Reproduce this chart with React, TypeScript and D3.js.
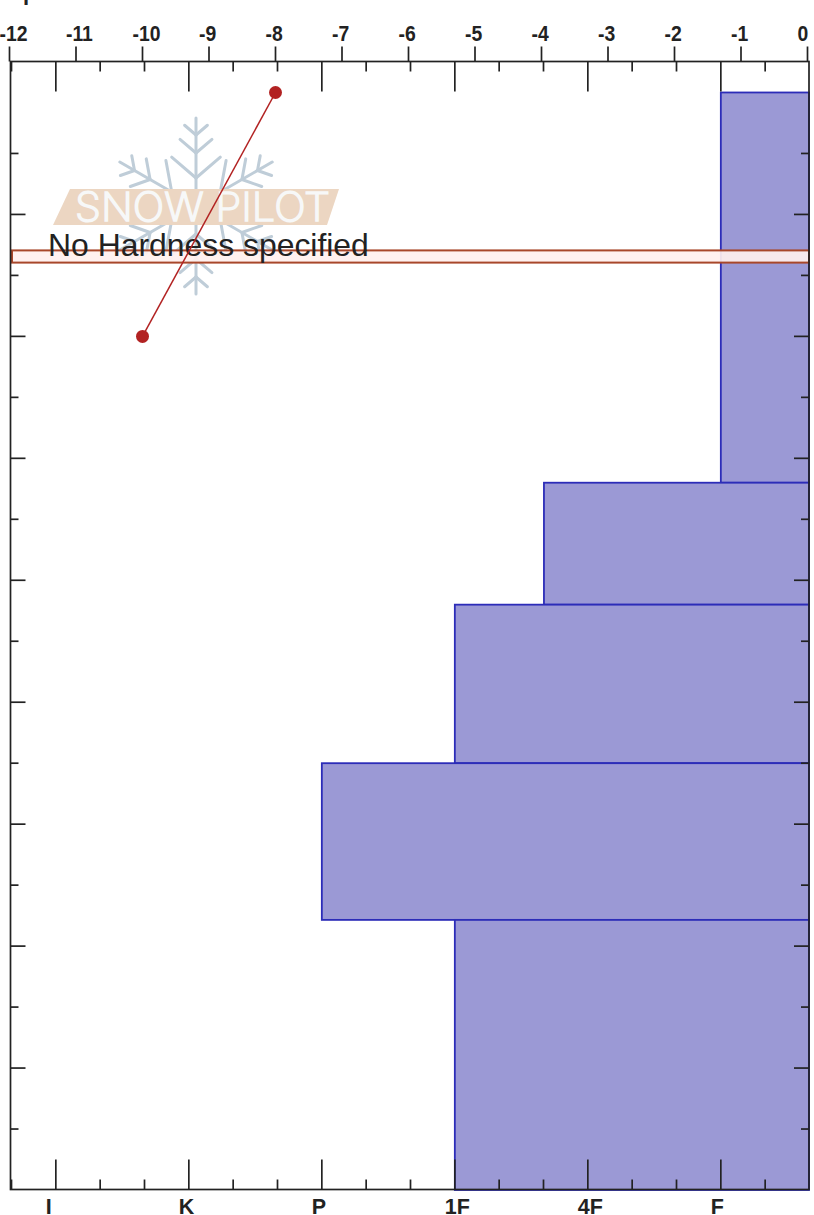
import React from "react";
import * as d3 from "d3";

const W = 814, H = 1215;
const tempTicks = [-12, -11, -10, -9, -8, -7, -6, -5, -4, -3, -2, -1, 0];
const hardnessLabels = ["I", "K", "P", "1F", "4F", "F"];
const layerTop = [180, 116, 96, 70, 44.3];
const layerBottom = [116, 96, 70, 44.3, 0];
const layerHardness = [5, 3.67, 3, 2, 3];
const tempDepth = [180, 140];
const tempValue = [-8, -10];
const bandTop = 154.1;
const bandBottom = 152.1;
const depthMajor = [20, 40, 60, 80, 100, 120, 140, 160];
const depthMinor = [10, 30, 50, 70, 90, 110, 130, 150, 170];
const hardnessMinor = [-1 / 3, 1 / 3, 2 / 3, 4 / 3, 5 / 3, 7 / 3, 8 / 3, 10 / 3, 11 / 3, 13 / 3, 14 / 3, 16 / 3];

const L = 10.5, R = 809, T = 61.5, B = 1189.5;
const xTemp = d3.scaleLinear().domain([-12, 0]).range([9.5, 807.5]);
const xHard = d3.scaleLinear().domain([-1 / 3, 17 / 3]).range([11.5, 809.5]);
const y = d3.scaleLinear().domain([0, 185]).range([1190, 62]);
const FONT = "'Liberation Sans', Arial, sans-serif";
const tempLine = d3.line<number>().x((_, i) => xTemp(tempValue[i])).y((d) => y(d));

function Flake() {
  const arm = [0, 1, 2, 3, 4, 5];
  const branches: [number, number][] = [[71, 15], [53, 21], [28, 32]];
  return (
    <g transform="translate(196,206)" stroke="#bfcdd8" strokeWidth={3} fill="none" strokeLinecap="round">
      {arm.map((a) => (
        <g key={a} transform={`rotate(${a * 60})`}>
          <line x1={0} y1={-14} x2={0} y2={-88} />
          {branches.map(([r, l]) => (
            <g key={r}>
              <line x1={0} y1={-r} x2={-l * 0.76} y2={-r - l * 0.65} />
              <line x1={0} y1={-r} x2={l * 0.76} y2={-r - l * 0.65} />
            </g>
          ))}
        </g>
      ))}
    </g>
  );
}

export default function App() {
  return (
    <svg width={W} height={H} style={{ position: "absolute", left: 0, top: 0, background: "#fff" }}>
      <text x={23} y={-0.5} fontFamily={FONT} fontSize={22} fontWeight="bold" fill="#222">p</text>

      <Flake />
      <polygon points="70,189 339,189 327,225 53,225" fill="#ecd6c2" />
      <text x={75} y={221} fontFamily="Inter, sans-serif" fontWeight={200} fontSize={40} textLength={255} lengthAdjust="spacingAndGlyphs"
        fill="#f7f8f8" stroke="#f7f8f8" strokeWidth={1.6}>SNOW PILOT</text>

      {layerTop.map((t, i) => (
        <rect key={i} x={xHard(layerHardness[i])} y={y(t)} width={R - xHard(layerHardness[i])} height={y(layerBottom[i]) - y(t)}
          fill="#9b99d5" stroke="#2c2cb8" strokeWidth={1.8} />
      ))}

      <rect x={L + 1.5} y={y(bandTop)} width={R - L - 1.5} height={y(bandBottom) - y(bandTop)}
        fill="#fff0ee" fillOpacity={0.92} stroke="#a8472a" strokeWidth={2} />
      <text x={48} y={256} fontFamily={FONT} fontSize={31.9} fill="#222">No Hardness specified</text>

      <path d={tempLine(tempDepth) ?? ""} stroke="#b22222" strokeWidth={1.5} fill="none" />
      {tempDepth.map((d, i) => (
        <circle key={i} cx={xTemp(tempValue[i])} cy={y(d)} r={6.5} fill="#b22222" />
      ))}

      <g stroke="#222" strokeWidth={1.7}>
        {tempTicks.map((t) => (
          <line key={t} x1={xTemp(t)} x2={xTemp(t)} y1={T - 15} y2={T} />
        ))}
        {hardnessLabels.map((_, i) => (
          <g key={i}>
            <line x1={xHard(i)} x2={xHard(i)} y1={T} y2={T + 30} />
            <line x1={xHard(i)} x2={xHard(i)} y1={B - 30} y2={B} />
          </g>
        ))}
        {hardnessMinor.map((h) => (
          <g key={h}>
            <line x1={xHard(h)} x2={xHard(h)} y1={T} y2={T + 10} />
            <line x1={xHard(h)} x2={xHard(h)} y1={B - 10} y2={B} />
          </g>
        ))}
        {depthMajor.map((d) => (
          <g key={d}>
            <line x1={L} x2={L + 15} y1={y(d)} y2={y(d)} />
            <line x1={R - 15} x2={R} y1={y(d)} y2={y(d)} />
          </g>
        ))}
        {depthMinor.map((d) => (
          <g key={d}>
            <line x1={L} x2={L + 8} y1={y(d)} y2={y(d)} />
            <line x1={R - 8} x2={R} y1={y(d)} y2={y(d)} />
          </g>
        ))}
        <rect x={L} y={T} width={R - L} height={B - T} fill="none" />
      </g>

      <g fontFamily={FONT} fontWeight="bold" fill="#222">
        {tempTicks.map((t) => (
          <text key={t} transform={`translate(${xTemp(t) - 10},41) scale(0.9,1)`} fontSize={21.5}>{String(t)}</text>
        ))}
        {hardnessLabels.map((h, i) => (
          <text key={h} x={xHard(i) - 10} y={1214} fontSize={21.5}>{h}</text>
        ))}
      </g>
    </svg>
  );
}
